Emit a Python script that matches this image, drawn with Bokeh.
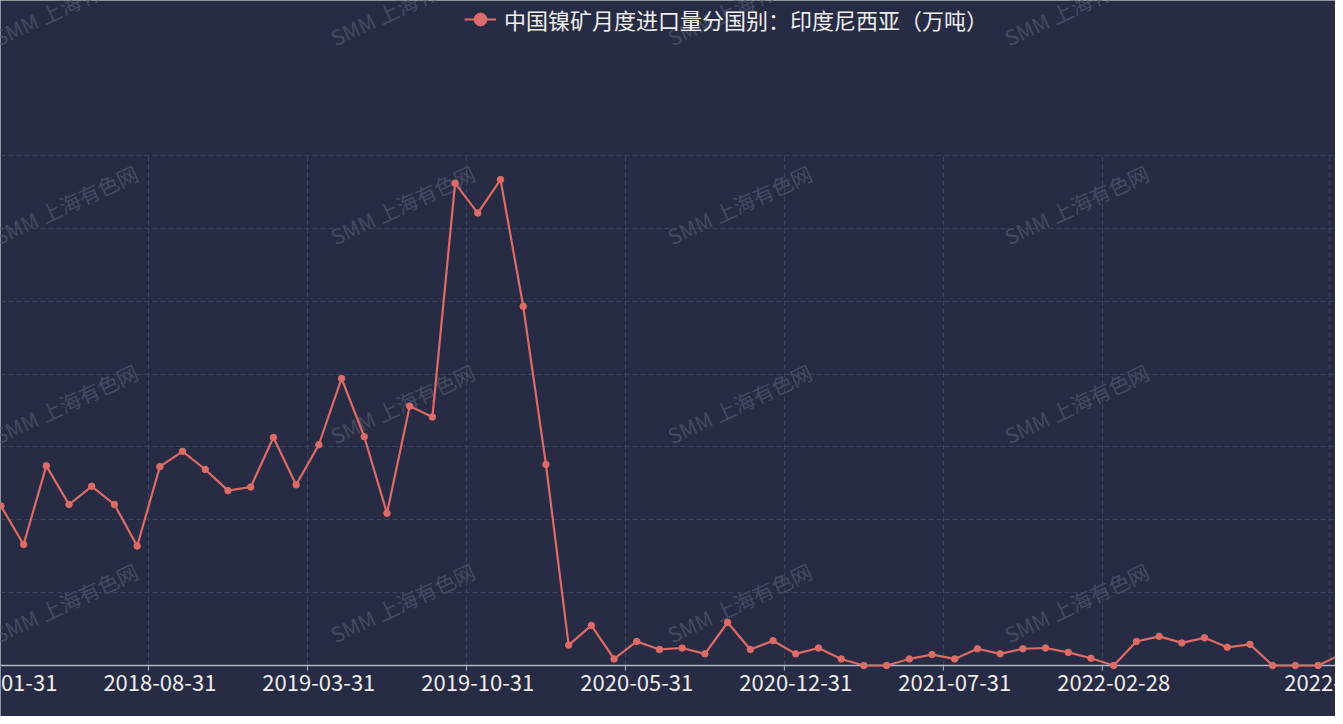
import pandas as pd
from bokeh.plotting import figure
from bokeh.models import (ColumnDataSource, Range1d, FixedTicker, Legend,
                          LegendItem, Label, Span)
from bokeh.core.properties import value
from bokeh.embed import file_html
from bokeh.resources import INLINE

# ---------------- data ----------------
months = list(pd.date_range("2018-01-31", periods=60, freq="ME").strftime("%Y-%m-%d"))
values = [219, 166, 274, 221, 246, 221, 164, 273, 294, 269, 240, 245,
          313, 248, 303, 394, 314, 209, 356, 341, 662, 621, 667, 493,
          276, 28, 55, 9, 33, 22, 24, 16, 59, 22, 34, 16,
          24, 9, 0, 0, 9, 15, 9, 23, 16, 23, 24, 18,
          10, 0, 33, 40, 31, 38, 25, 29, 0, 0, 0, 15]
label_idx = [0, 7, 14, 21, 28, 35, 42, 49, 59]
y_ticks = [100, 200, 300, 400, 500, 600, 700]
series_name = "中国镍矿月度进口量分国别：印度尼西亚（万吨）"
watermark = "SMM 上海有色网"

# ---------------- style / layout ----------------
BG = "#272b43"
LINE = "#dd6b66"
GRID = "#3a4561"
AXIS = "#b4b7c8"
TXT = "#eeeeee"
WM = "#454a62"
FONT = "Noto Sans CJK SC"

X0, DX = 0.4, 22.71          # canvas x of first category, px per category
Y0, DY = 665.0, 510.0 / 700   # canvas y of zero value, px per unit
W, H = 1335, 716

def px2x(px):
    return (px - X0) / DX

def py2y(py):
    return (Y0 - py) / DY

xr = Range1d(px2x(0), px2x(W))
yr = Range1d(py2y(H), py2y(0))

p = figure(width=W, height=H, x_range=xr, y_range=yr, output_backend="svg",
           toolbar_location=None, x_axis_location=None, y_axis_location=None,
           min_border=0)
p.background_fill_color = BG
p.border_fill_color = BG
p.outline_line_color = None

x = list(range(len(values)))
src = ColumnDataSource(dict(x=x, y=values, m=months))

# grids (category band boundaries for x, value ticks for y)
boundaries = [i - 0.5 for i in label_idx[1:-1]]
grid_x = boundaries + [label_idx[-1] - 0.5]
p.xgrid.ticker = FixedTicker(ticks=grid_x)
p.xgrid.cross_bounds = (0, y_ticks[-1])
p.ygrid.ticker = FixedTicker(ticks=y_ticks)
for g in (p.xgrid, p.ygrid):
    g.grid_line_color = GRID
    g.grid_line_dash = "5 3"
    g.grid_line_width = 1

# watermarks
for cy in (5, 204, 403, 602):
    for cx in (65, 402, 739, 1076):
        p.add_layout(Label(x=px2x(cx), y=py2y(cy), text=watermark,
                           angle=25, angle_units="deg", text_align="center",
                           text_baseline="middle", text_color=WM,
                           text_font=FONT, text_font_size="21px",
                           level="underlay"))

# x axis line, ticks and labels
p.add_layout(Span(location=0, dimension="width", line_color=AXIS,
                  line_width=1.5, level="underlay"))
tick_len = 5 / DY
p.segment(x0=boundaries, y0=[0] * len(boundaries), x1=boundaries,
          y1=[-tick_len] * len(boundaries), line_color=AXIS, line_width=1)
p.text(x=label_idx, y=[py2y(674)] * len(label_idx),
       text=[months[i] for i in label_idx],
       text_align="center", text_baseline="top", text_color=TXT,
       text_font=value(FONT), text_font_size="22px")

# series
lr = p.line("x", "y", source=src, line_color=LINE, line_width=2.2)
sr = p.scatter("x", "y", source=src, marker="circle", size=6.5,
               fill_color=LINE, line_color=LINE)

legend = Legend(items=[LegendItem(label=series_name, renderers=[lr, sr])],
                location=(464, H - 37), orientation="horizontal",
                padding=0, margin=0, spacing=0,
                background_fill_alpha=0, border_line_alpha=0,
                glyph_width=32, glyph_height=36, label_height=36,
                label_standoff=8, label_text_color=TXT,
                label_text_font=FONT, label_text_font_size="22px")
p.add_layout(legend)

open("out.html", "w").write(file_html(p, INLINE))
